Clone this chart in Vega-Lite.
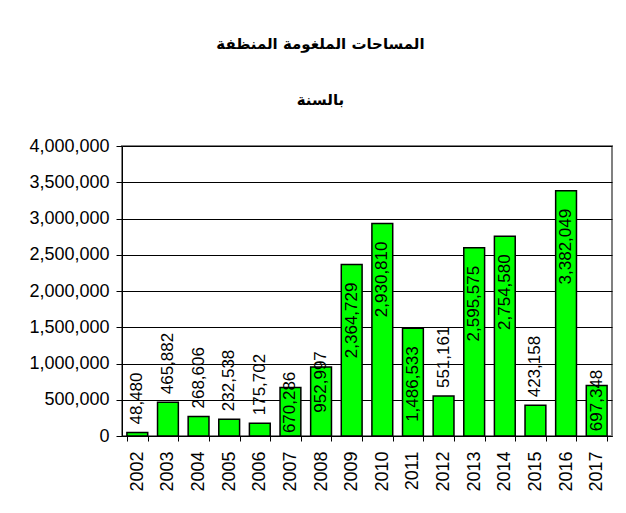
{
  "$schema": "https://vega.github.io/schema/vega-lite/v6.json",
  "width": 490,
  "height": 290,
  "padding": {"left": 28, "top": 37, "right": 5, "bottom": 5},
  "background": "white",
  "title": {
    "text": ["المساحات الملغومة المنظفة", "بالسنة"],
    "font": "DejaVu Sans",
    "fontSize": 15,
    "fontWeight": "bold",
    "lineHeight": 56,
    "anchor": "middle",
    "frame": "bounds",
    "offset": 29,
    "color": "black"
  },
  "data": {
    "values": [
      {"year": "2002", "area": 48480},
      {"year": "2003", "area": 465882},
      {"year": "2004", "area": 268606},
      {"year": "2005", "area": 232538},
      {"year": "2006", "area": 175702},
      {"year": "2007", "area": 670286},
      {"year": "2008", "area": 952997},
      {"year": "2009", "area": 2364729},
      {"year": "2010", "area": 2930810},
      {"year": "2011", "area": 1486533},
      {"year": "2012", "area": 551161},
      {"year": "2013", "area": 2595575},
      {"year": "2014", "area": 2754580},
      {"year": "2015", "area": 423158},
      {"year": "2016", "area": 3382049},
      {"year": "2017", "area": 697348}
    ]
  },
  "encoding": {
    "x": {
      "field": "year",
      "type": "ordinal",
      "sort": null,
      "scale": {"paddingInner": 0.32, "paddingOuter": 0.16},
      "axis": {
        "title": null,
        "labelAngle": 270,
        "labelAlign": "right",
        "labelBaseline": "middle",
        "tickBand": "extent",
        "tickSize": 5,
        "labelPadding": 10,
        "grid": false
      }
    },
    "y": {
      "field": "area",
      "type": "quantitative",
      "scale": {"domain": [0, 4000000], "nice": false},
      "axis": {
        "title": null,
        "values": [0, 500000, 1000000, 1500000, 2000000, 2500000, 3000000, 3500000, 4000000],
        "format": ",d",
        "grid": true,
        "gridColor": "black",
        "gridWidth": 1,
        "gridOpacity": 1,
        "tickSize": 6,
        "labelPadding": 7
      }
    }
  },
  "layer": [
    {"mark": {"type": "bar", "fill": "#00ff00", "stroke": "black", "strokeWidth": 1.5}},
    {
      "transform": [{"filter": "datum.area < 600000"}],
      "mark": {"type": "text", "angle": 270, "align": "left", "baseline": "middle", "dx": 8, "font": "Liberation Sans", "fontSize": 17, "color": "black"},
      "encoding": {"text": {"field": "area", "type": "quantitative", "format": ",d"}}
    },
    {
      "transform": [{"filter": "datum.area >= 600000 && datum.area < 1000000"}],
      "mark": {"type": "text", "angle": 270, "align": "center", "baseline": "middle", "dx": -15, "font": "Liberation Sans", "fontSize": 17, "color": "black"},
      "encoding": {"text": {"field": "area", "type": "quantitative", "format": ",d"}}
    },
    {
      "transform": [{"filter": "datum.area >= 1000000"}],
      "mark": {"type": "text", "angle": 270, "align": "right", "baseline": "middle", "dx": -18, "font": "Liberation Sans", "fontSize": 17, "color": "black"},
      "encoding": {"text": {"field": "area", "type": "quantitative", "format": ",d"}}
    }
  ],
  "config": {
    "view": {"stroke": "#808080", "strokeWidth": 2},
    "axis": {
      "domainColor": "black",
      "tickColor": "black",
      "labelColor": "black",
      "labelFont": "Liberation Sans",
      "labelFontSize": 18
    }
  }
}
